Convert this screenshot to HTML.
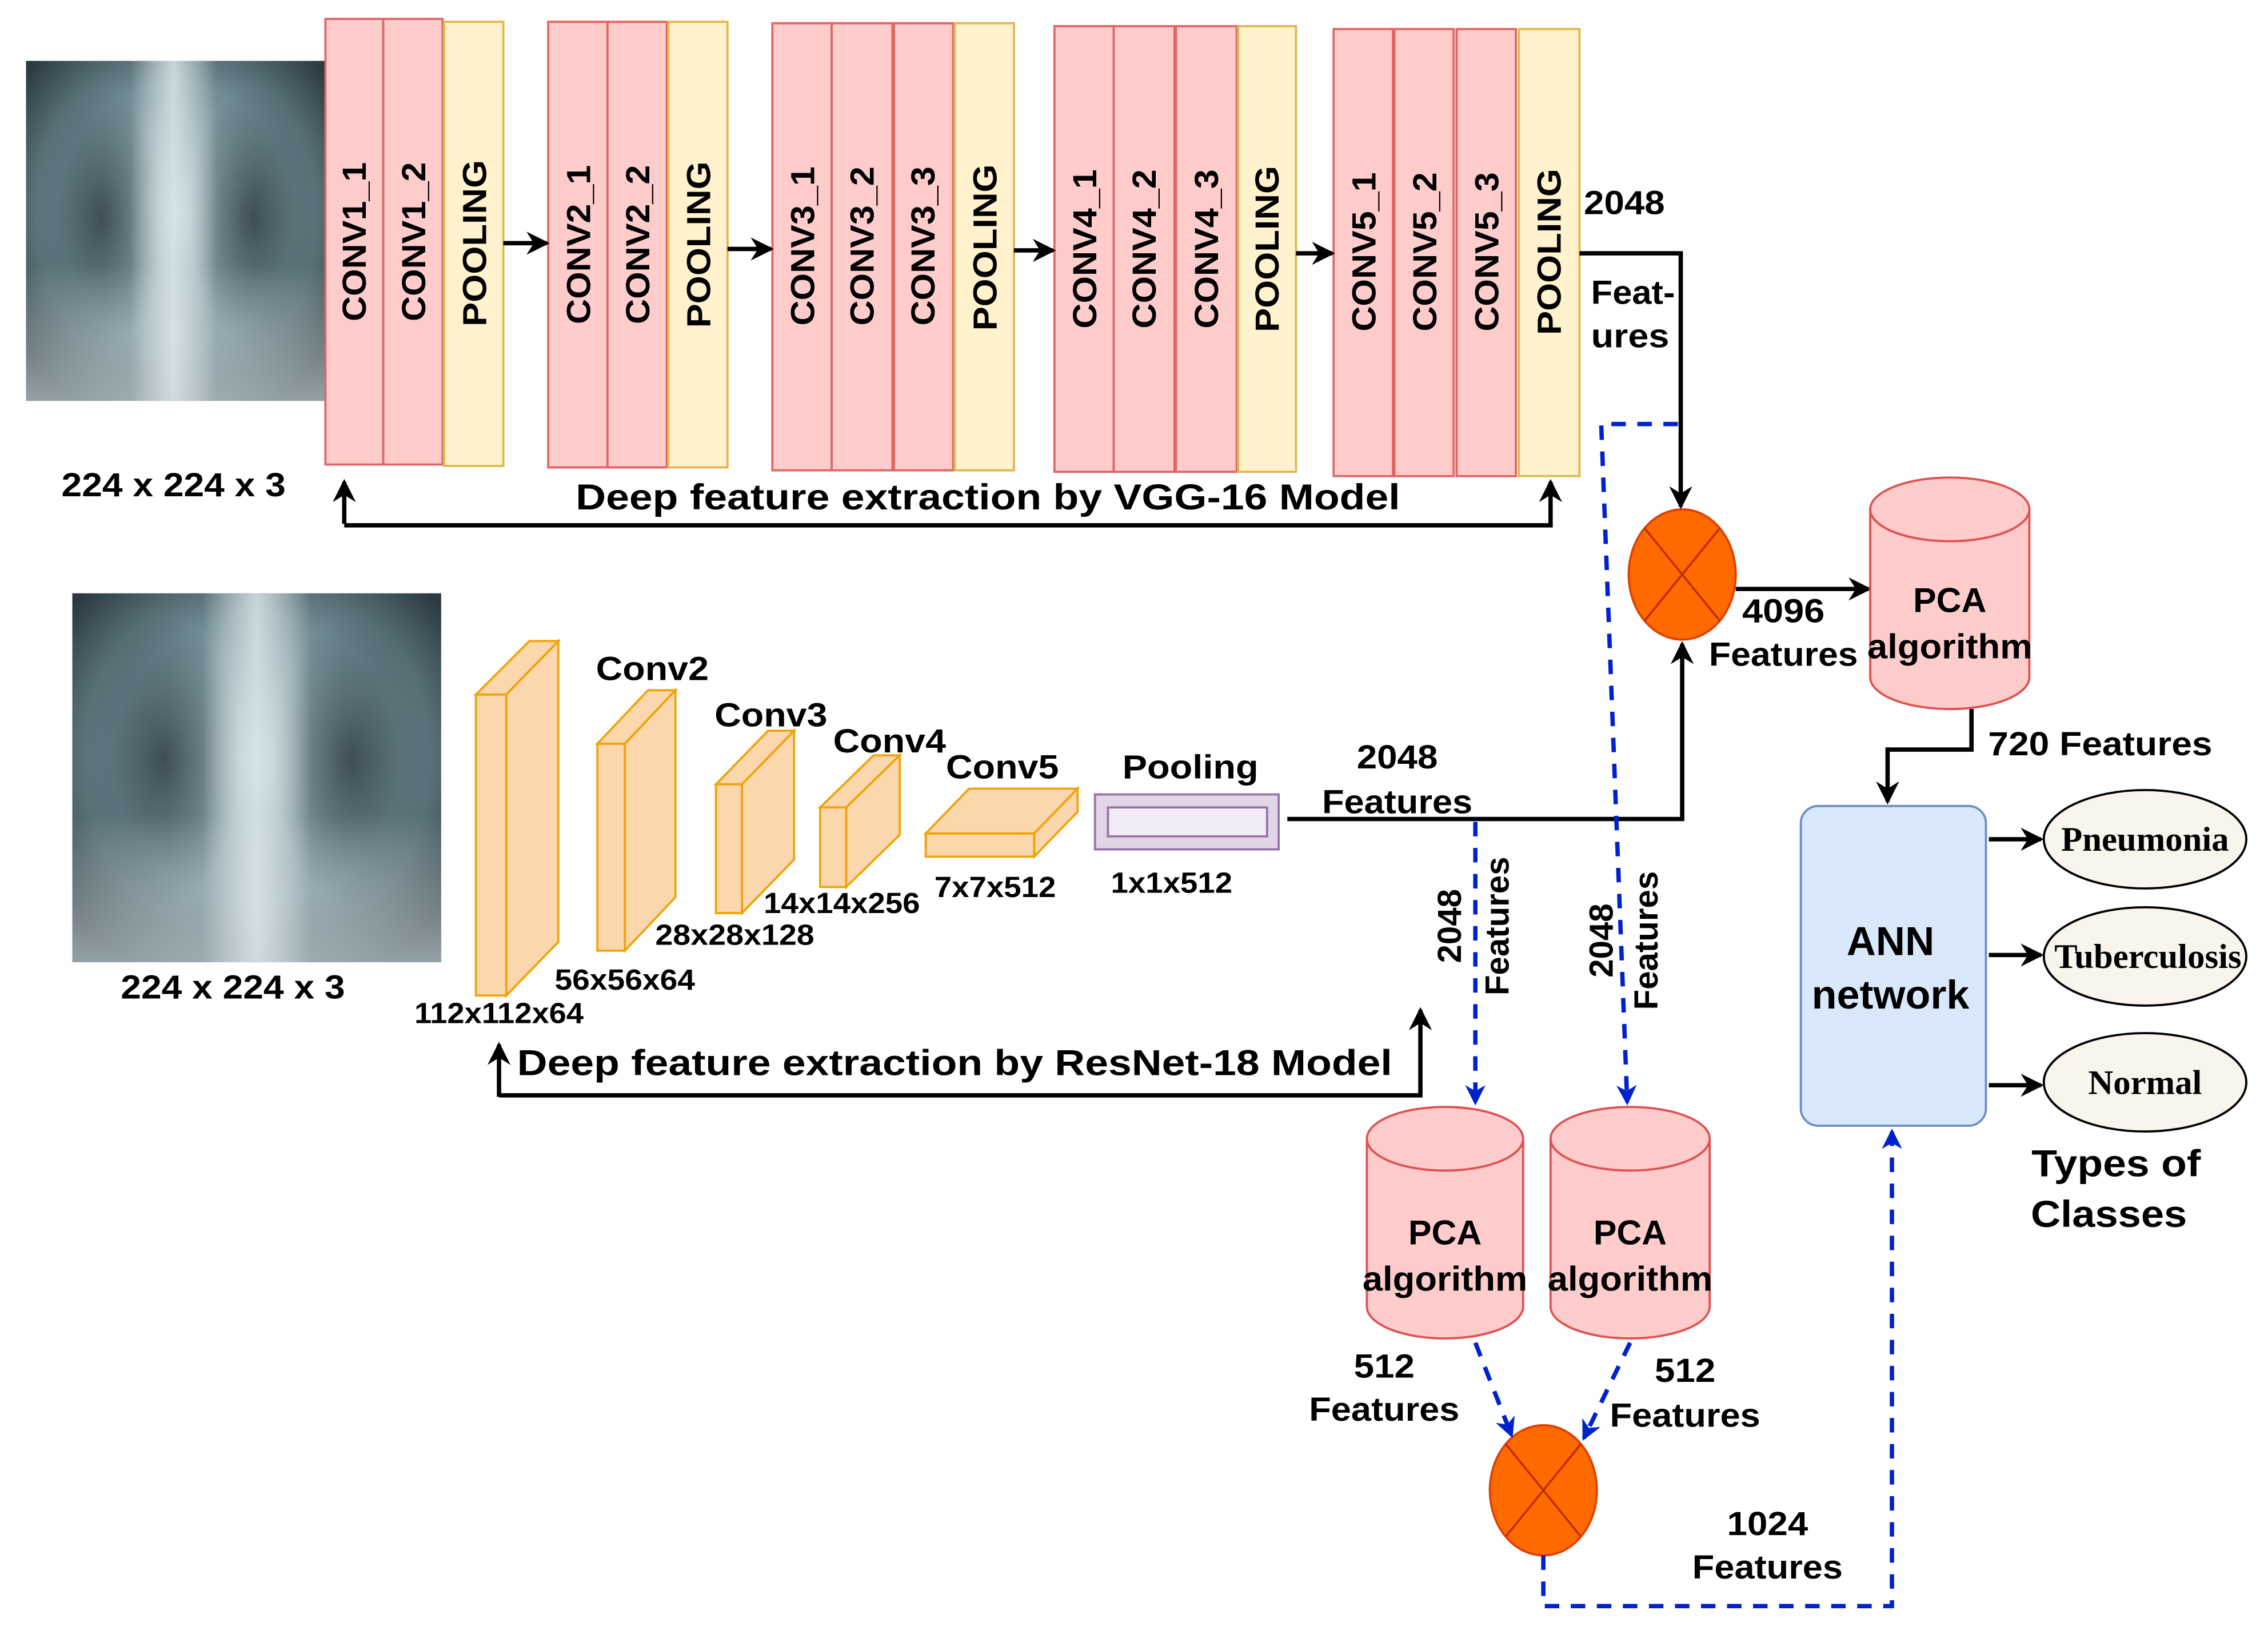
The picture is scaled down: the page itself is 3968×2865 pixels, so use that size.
<!DOCTYPE html>
<html><head><meta charset="utf-8"><style>html,body{margin:0;padding:0;background:#fff}svg{display:block}</style></head>
<body>
<svg width="3968" height="2865" viewBox="0 0 1568 1132" xmlns="http://www.w3.org/2000/svg" font-family="Liberation Sans, sans-serif" font-weight="bold">
<defs>
<marker id="ab" markerWidth="14" markerHeight="14" refX="12" refY="7" orient="auto" markerUnits="userSpaceOnUse"><path d="M0,0 L14,7 L0,14 L4,7 z" fill="#0022cc"/></marker>
<marker id="ak2" markerWidth="16" markerHeight="16" refX="14" refY="8" orient="auto" markerUnits="userSpaceOnUse"><path d="M0,0 L16,8 L0,16 L5,8 z" fill="#000"/></marker>
<radialGradient id="lung" cx="0.5" cy="0.45" r="0.65"><stop offset="0" stop-color="#a9c0c6"/><stop offset="0.6" stop-color="#6f8a92"/><stop offset="1" stop-color="#2a3a3f"/></radialGradient>
<radialGradient id="dark" cx="0.5" cy="0.5" r="0.5"><stop offset="0" stop-color="#1f2d31" stop-opacity="0.7"/><stop offset="1" stop-color="#1f2d31" stop-opacity="0"/></radialGradient>
<linearGradient id="spine" x1="0" x2="1"><stop offset="0" stop-color="#fff" stop-opacity="0"/><stop offset="0.5" stop-color="#dfecef" stop-opacity="0.8"/><stop offset="1" stop-color="#fff" stop-opacity="0"/></linearGradient>
<linearGradient id="bot" x1="0" y1="0" x2="0" y2="1"><stop offset="0.6" stop-color="#fff" stop-opacity="0"/><stop offset="1" stop-color="#d8e6ea" stop-opacity="0.6"/></linearGradient>
</defs>
<rect width="1568" height="1132" fill="#fff"/>

<!-- X-ray 1 -->
<rect x="18" y="42" width="207" height="235" fill="url(#lung)"/>
<ellipse cx="70" cy="150" rx="45" ry="90" fill="url(#dark)"/>
<ellipse cx="175" cy="150" rx="45" ry="90" fill="url(#dark)"/>
<rect x="90" y="42" width="60" height="235" fill="url(#spine)"/>
<rect x="18" y="42" width="207" height="235" fill="url(#bot)"/>
<!-- X-ray 2 -->
<rect x="50" y="410" width="255" height="255" fill="url(#lung)"/>
<ellipse cx="113" cy="525" rx="55" ry="100" fill="url(#dark)"/>
<ellipse cx="243" cy="525" rx="55" ry="100" fill="url(#dark)"/>
<rect x="140" y="410" width="75" height="255" fill="url(#spine)"/>
<rect x="50" y="410" width="255" height="255" fill="url(#bot)"/>

<!-- VGG blocks -->
<g stroke-width="1.5">
<g fill="#ffcccc" stroke="#e06666">
<rect x="225" y="13" width="40" height="308"/><rect x="265" y="13" width="41" height="308"/>
<rect x="379" y="15" width="41" height="308"/><rect x="420" y="15" width="41" height="308"/>
<rect x="534" y="16" width="41" height="309"/><rect x="575" y="16" width="42" height="309"/><rect x="618" y="16" width="41" height="309"/>
<rect x="729" y="18" width="41" height="308"/><rect x="770" y="18" width="42" height="308"/><rect x="813" y="18" width="42" height="308"/>
<rect x="922" y="20" width="41" height="309"/><rect x="964" y="20" width="41" height="309"/><rect x="1007" y="20" width="41" height="309"/>
</g>
<g fill="#fff2cc" stroke="#e0b84f">
<rect x="307" y="15" width="41" height="307"/><rect x="462" y="15" width="41" height="308"/><rect x="660" y="16" width="41" height="309"/><rect x="856" y="18" width="40" height="308"/><rect x="1050" y="20" width="42" height="309"/>
</g>
</g>
<g font-size="23" text-anchor="middle" fill="#000">
<text transform="translate(253,167) rotate(-90)" textLength="110" lengthAdjust="spacingAndGlyphs">CONV1_1</text>
<text transform="translate(294,167) rotate(-90)" textLength="110" lengthAdjust="spacingAndGlyphs">CONV1_2</text>
<text transform="translate(336,168) rotate(-90)" textLength="115" lengthAdjust="spacingAndGlyphs">POOLING</text>
<text transform="translate(408,169) rotate(-90)" textLength="110" lengthAdjust="spacingAndGlyphs">CONV2_1</text>
<text transform="translate(449,169) rotate(-90)" textLength="110" lengthAdjust="spacingAndGlyphs">CONV2_2</text>
<text transform="translate(491,169) rotate(-90)" textLength="115" lengthAdjust="spacingAndGlyphs">POOLING</text>
<text transform="translate(563,170) rotate(-90)" textLength="110" lengthAdjust="spacingAndGlyphs">CONV3_1</text>
<text transform="translate(604,170) rotate(-90)" textLength="110" lengthAdjust="spacingAndGlyphs">CONV3_2</text>
<text transform="translate(646,170) rotate(-90)" textLength="110" lengthAdjust="spacingAndGlyphs">CONV3_3</text>
<text transform="translate(689,171) rotate(-90)" textLength="115" lengthAdjust="spacingAndGlyphs">POOLING</text>
<text transform="translate(758,172) rotate(-90)" textLength="110" lengthAdjust="spacingAndGlyphs">CONV4_1</text>
<text transform="translate(799,172) rotate(-90)" textLength="110" lengthAdjust="spacingAndGlyphs">CONV4_2</text>
<text transform="translate(842,172) rotate(-90)" textLength="110" lengthAdjust="spacingAndGlyphs">CONV4_3</text>
<text transform="translate(884,172) rotate(-90)" textLength="115" lengthAdjust="spacingAndGlyphs">POOLING</text>
<text transform="translate(951,174) rotate(-90)" textLength="110" lengthAdjust="spacingAndGlyphs">CONV5_1</text>
<text transform="translate(993,174) rotate(-90)" textLength="110" lengthAdjust="spacingAndGlyphs">CONV5_2</text>
<text transform="translate(1036,174) rotate(-90)" textLength="110" lengthAdjust="spacingAndGlyphs">CONV5_3</text>
<text transform="translate(1079,174) rotate(-90)" textLength="115" lengthAdjust="spacingAndGlyphs">POOLING</text>
</g>
<g stroke="#000" stroke-width="3" fill="none">
<line x1="348" y1="168" x2="378" y2="168" marker-end="url(#ak2)"/>
<line x1="503" y1="172" x2="533" y2="172" marker-end="url(#ak2)"/>
<line x1="701" y1="173" x2="728" y2="173" marker-end="url(#ak2)"/>
<line x1="896" y1="175" x2="921" y2="175" marker-end="url(#ak2)"/>
<path d="M1092,175 H1162 V350" marker-end="url(#ak2)"/>
<path d="M238,362 V333" marker-end="url(#ak2)"/>
<path d="M238,363 H1072 V333" marker-end="url(#ak2)"/>
<line x1="1200" y1="407" x2="1292" y2="407" marker-end="url(#ak2)"/>
<path d="M1363,490 V518 H1305 V554" marker-end="url(#ak2)"/>
<line x1="1375" y1="580" x2="1411" y2="580" marker-end="url(#ak2)"/>
<line x1="1375" y1="660" x2="1411" y2="660" marker-end="url(#ak2)"/>
<line x1="1375" y1="750" x2="1411" y2="750" marker-end="url(#ak2)"/>
<path d="M890,566 H1163 V445" marker-end="url(#ak2)"/>
<path d="M345,758 V722" marker-end="url(#ak2)"/>
<path d="M345,757 H982 V698" marker-end="url(#ak2)"/>
</g>
<g font-size="23" fill="#000">
<text x="1095" y="148" textLength="56" lengthAdjust="spacingAndGlyphs">2048</text>
<text x="1100" y="210" textLength="58" lengthAdjust="spacingAndGlyphs">Feat-</text>
<text x="1100" y="240" textLength="54" lengthAdjust="spacingAndGlyphs">ures</text>
<text x="120" y="343" text-anchor="middle" textLength="155" lengthAdjust="spacingAndGlyphs">224 x 224 x 3</text>
<text x="683" y="352" text-anchor="middle" font-size="25" textLength="570" lengthAdjust="spacingAndGlyphs">Deep feature extraction by VGG-16 Model</text>
<text x="1233" y="430" text-anchor="middle" textLength="57" lengthAdjust="spacingAndGlyphs">4096</text>
<text x="1233" y="460" text-anchor="middle" textLength="103" lengthAdjust="spacingAndGlyphs">Features</text>
<text x="1452" y="522" text-anchor="middle" textLength="155" lengthAdjust="spacingAndGlyphs">720 Features</text>
<text x="161" y="690" text-anchor="middle" textLength="155" lengthAdjust="spacingAndGlyphs">224 x 224 x 3</text>
<text x="966" y="531" text-anchor="middle" textLength="56" lengthAdjust="spacingAndGlyphs">2048</text>
<text x="966" y="562" text-anchor="middle" textLength="104" lengthAdjust="spacingAndGlyphs">Features</text>
<text x="660" y="743" text-anchor="middle" font-size="25" textLength="605" lengthAdjust="spacingAndGlyphs">Deep feature extraction by ResNet-18 Model</text>
<text x="1463" y="813" text-anchor="middle" font-size="26" textLength="117" lengthAdjust="spacingAndGlyphs">Types of</text>
<text x="1458" y="848" text-anchor="middle" font-size="26" textLength="108" lengthAdjust="spacingAndGlyphs">Classes</text>
<text x="957" y="952" text-anchor="middle" textLength="42" lengthAdjust="spacingAndGlyphs">512</text>
<text x="957" y="982" text-anchor="middle" textLength="104" lengthAdjust="spacingAndGlyphs">Features</text>
<text x="1165" y="955" text-anchor="middle" textLength="42" lengthAdjust="spacingAndGlyphs">512</text>
<text x="1165" y="986" text-anchor="middle" textLength="104" lengthAdjust="spacingAndGlyphs">Features</text>
<text x="1222" y="1061" text-anchor="middle" textLength="56" lengthAdjust="spacingAndGlyphs">1024</text>
<text x="1222" y="1091" text-anchor="middle" textLength="104" lengthAdjust="spacingAndGlyphs">Features</text>
<text transform="translate(1010,640) rotate(-90)" text-anchor="middle">2048</text>
<text transform="translate(1043,640) rotate(-90)" text-anchor="middle">Features</text>
<text transform="translate(1115,650) rotate(-90)" text-anchor="middle">2048</text>
<text transform="translate(1146,650) rotate(-90)" text-anchor="middle">Features</text>
</g>

<!-- ResNet boxes -->
<g fill="#fad7ac" stroke="#f0a30a" stroke-width="1.5">
<path d="M329,480 L366,443 L386,443 L350,480 z"/><path d="M350,480 L386,443 L386,651 L350,688 z"/><rect x="329" y="480" width="21" height="208"/>
<path d="M413,514 L448,477 L467,477 L432,514 z"/><path d="M432,514 L467,477 L467,620 L432,657 z"/><rect x="413" y="514" width="19" height="143"/>
<path d="M495,542 L531,505 L549,505 L513,542 z"/><path d="M513,542 L549,505 L549,594 L513,631 z"/><rect x="495" y="542" width="18" height="89"/>
<path d="M567,558 L604,522 L622,522 L585,558 z"/><path d="M585,558 L622,522 L622,577 L585,613 z"/><rect x="567" y="558" width="18" height="55"/>
<path d="M640,576 L670,545 L745,545 L715,576 z"/><path d="M715,576 L745,545 L745,561 L715,592 z"/><rect x="640" y="576" width="75" height="16"/>
</g>
<rect x="757" y="549" width="127" height="38" fill="#e1d5e7" stroke="#9673a6" stroke-width="1.5"/>
<rect x="766" y="558" width="110" height="20" fill="#f3ecf6" stroke="#9673a6" stroke-width="1.5"/>
<g font-size="23" fill="#000" text-anchor="middle">
<text x="451" y="470" textLength="78" lengthAdjust="spacingAndGlyphs">Conv2</text><text x="533" y="502" textLength="78" lengthAdjust="spacingAndGlyphs">Conv3</text><text x="615" y="520" textLength="78" lengthAdjust="spacingAndGlyphs">Conv4</text><text x="693" y="538" textLength="78" lengthAdjust="spacingAndGlyphs">Conv5</text><text x="823" y="538" textLength="94" lengthAdjust="spacingAndGlyphs">Pooling</text>
</g>
<g font-size="20" fill="#000" text-anchor="middle">
<text x="345" y="707" textLength="117" lengthAdjust="spacingAndGlyphs">112x112x64</text><text x="432" y="684" textLength="97" lengthAdjust="spacingAndGlyphs">56x56x64</text><text x="508" y="653" textLength="110" lengthAdjust="spacingAndGlyphs">28x28x128</text><text x="582" y="631" textLength="108" lengthAdjust="spacingAndGlyphs">14x14x256</text><text x="688" y="620" textLength="84" lengthAdjust="spacingAndGlyphs">7x7x512</text><text x="810" y="617" textLength="84" lengthAdjust="spacingAndGlyphs">1x1x512</text>
</g>

<!-- circles -->
<g fill="#ff6a00" stroke="#e04000" stroke-width="1.5">
<ellipse cx="1163" cy="397" rx="37" ry="45"/>
<ellipse cx="1067" cy="1030" rx="37" ry="45"/>
</g>
<g stroke="#c03000" stroke-width="1.5">
<line x1="1137" y1="365" x2="1189" y2="429"/><line x1="1189" y1="365" x2="1137" y2="429"/>
<line x1="1041" y1="998" x2="1093" y2="1062"/><line x1="1093" y1="998" x2="1041" y2="1062"/>
</g>

<!-- Cylinders -->
<g fill="#ffcccc" stroke="#e05050" stroke-width="1.5">
<path d="M1293,352 V468 A55,22 0 0 0 1403,468 V352"/><ellipse cx="1348" cy="352" rx="55" ry="22"/>
<path d="M945,787 V903 A54,22 0 0 0 1053,903 V787"/><ellipse cx="999" cy="787" rx="54" ry="22"/>
<path d="M1072,787 V903 A55,22 0 0 0 1182,903 V787"/><ellipse cx="1127" cy="787" rx="55" ry="22"/>
</g>
<g font-size="24" fill="#000" text-anchor="middle">
<text x="1348" y="423">PCA</text><text x="1348" y="455" textLength="114" lengthAdjust="spacingAndGlyphs">algorithm</text>
<text x="999" y="860">PCA</text><text x="999" y="892" textLength="114" lengthAdjust="spacingAndGlyphs">algorithm</text>
<text x="1127" y="860">PCA</text><text x="1127" y="892" textLength="114" lengthAdjust="spacingAndGlyphs">algorithm</text>
</g>

<!-- ANN -->
<rect x="1245" y="557" width="128" height="221" rx="12" fill="#dae8fc" stroke="#6c8ebf" stroke-width="1.5"/>
<text x="1307" y="660" font-size="28" text-anchor="middle">ANN</text>
<text x="1307" y="697" font-size="28" text-anchor="middle" textLength="109" lengthAdjust="spacingAndGlyphs">network</text>
<g fill="#f9f5ec" stroke="#000" stroke-width="1.5">
<ellipse cx="1483" cy="580" rx="70" ry="34"/><ellipse cx="1483" cy="661" rx="70" ry="34"/><ellipse cx="1483" cy="748" rx="70" ry="34"/>
</g>
<g font-family="Liberation Serif, serif" font-size="24" text-anchor="middle" fill="#000">
<text x="1483" y="588">Pneumonia</text><text x="1485" y="669">Tuberculosis</text><text x="1483" y="756">Normal</text>
</g>

<!-- Blue dashed -->
<g stroke="#0022cc" stroke-width="3" fill="none" stroke-dasharray="10,8">
<path d="M1020,568 V762" marker-end="url(#ab)"/>
<path d="M1160,293 H1107 L1125,762" marker-end="url(#ab)"/>
<path d="M1020,928 L1045,992" marker-end="url(#ab)"/>
<path d="M1127,928 L1095,994" marker-end="url(#ab)"/>
<path d="M1067,1075 V1110 H1308 V782" marker-end="url(#ab)"/>
</g>
</svg>
</body></html>
